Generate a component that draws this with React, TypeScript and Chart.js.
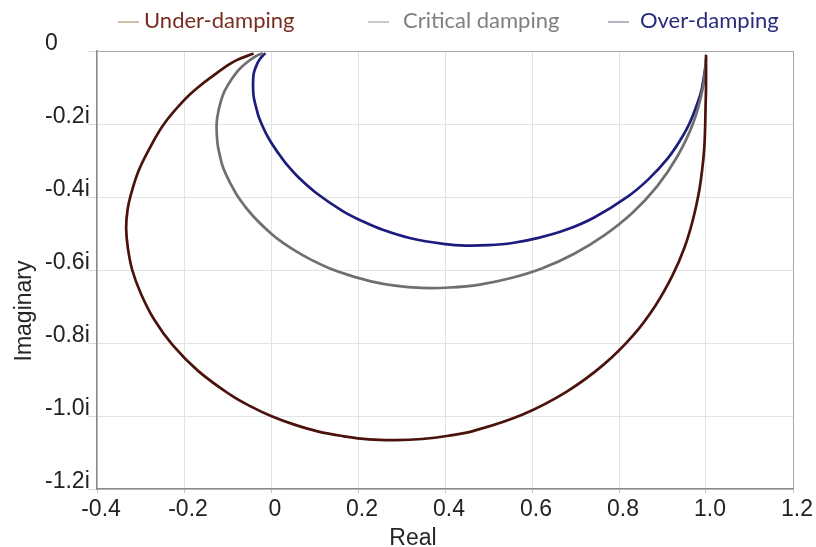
import React, { useEffect, useRef } from 'react';
import { Chart, registerables } from 'chart.js';

Chart.register(...registerables);

// ---------- data ----------
const seriesNames = ['Under-damping', 'Critical damping', 'Over-damping'];

const underReal = [1.0, 1.0, 0.999, 0.998, 0.996, 0.991, 0.983, 0.970, 0.951, 0.923, 0.884, 0.832, 0.764, 0.680, 0.580, 0.468, 0.408, 0.347, 0.286, 0.225, 0.165, 0.107, 0.052, 0.0, -0.048, -0.092, -0.167, -0.226, -0.269, -0.299, -0.319, -0.329, -0.333, -0.330, -0.322, -0.305, -0.281, -0.246, -0.199, -0.166, -0.131, -0.104, -0.079, -0.040];
const underImag = [-0.010, -0.101, -0.153, -0.208, -0.266, -0.327, -0.392, -0.462, -0.537, -0.615, -0.697, -0.780, -0.860, -0.933, -0.995, -1.040, -1.054, -1.063, -1.066, -1.064, -1.055, -1.042, -1.023, -1.0, -0.973, -0.943, -0.877, -0.806, -0.735, -0.665, -0.600, -0.540, -0.486, -0.437, -0.393, -0.330, -0.271, -0.200, -0.134, -0.098, -0.066, -0.043, -0.025, -0.007];

const criticalReal = [1.0, 0.993, 0.971, 0.935, 0.888, 0.831, 0.766, 0.696, 0.624, 0.552, 0.480, 0.411, 0.346, 0.285, 0.230, 0.179, 0.134, 0.094, 0.058, 0.027, 0.0, -0.043, -0.074, -0.095, -0.110, -0.118, -0.123, -0.125, -0.120, -0.111, -0.100, -0.080, -0.064, -0.052, -0.036, -0.019];
const criticalImag = [-0.020, -0.100, -0.196, -0.287, -0.370, -0.443, -0.505, -0.556, -0.595, -0.622, -0.640, -0.648, -0.649, -0.643, -0.631, -0.614, -0.595, -0.573, -0.549, -0.525, -0.500, -0.450, -0.403, -0.359, -0.320, -0.284, -0.253, -0.200, -0.160, -0.122, -0.095, -0.060, -0.040, -0.028, -0.015, -0.006];

const overReal = [0.999, 0.994, 0.987, 0.964, 0.940, 0.912, 0.868, 0.820, 0.743, 0.678, 0.615, 0.555, 0.499, 0.448, 0.401, 0.321, 0.257, 0.206, 0.164, 0.104, 0.063, 0.035, 0.015, 0.0, -0.011, -0.019, -0.028, -0.033, -0.039, -0.041, -0.041, -0.039, -0.031, -0.025, -0.019, -0.013];
const overImag = [-0.040, -0.080, -0.119, -0.193, -0.246, -0.294, -0.351, -0.399, -0.456, -0.490, -0.512, -0.526, -0.532, -0.533, -0.529, -0.513, -0.490, -0.464, -0.438, -0.389, -0.346, -0.309, -0.277, -0.250, -0.227, -0.207, -0.181, -0.160, -0.131, -0.110, -0.078, -0.058, -0.033, -0.021, -0.013, -0.006];

const xTickLabels = ['-0.4', '-0.2', '0', '0.2', '0.4', '0.6', '0.8', '1.0', '1.2'];
const yTickLabels = ['0', '-0.2i', '-0.4i', '-0.6i', '-0.8i', '-1.0i', '-1.2i'];

const xAxisTitle = 'Real';
const yAxisTitle = 'Imaginary';

// ---------- styles / layout ----------
const X_MIN = -0.4, X_MAX = 1.2, STEP = 0.2;
const Y_MIN = -1.2, Y_MAX = 0;

const lineColors = ['#4a120a', '#6f6f6f', '#1c1c7c'];
const legendTextColors = ['#7b2c20', '#7f7f7f', '#2c2c7e'];
const legendDashColors = ['#bcac90', '#b8b8b8', '#9c9cac'];
const legendDashX = [118, 368, 608];
const legendTextX = [144, 403, 640];

const TICK_FONT = { family: '"Liberation Sans", Arial, sans-serif', size: 23 };

function toPoints(xs: number[], ys: number[]) {
  return xs.map((x, i) => ({ x, y: ys[i] }));
}

const textPlugin = {
  id: 'customTexts',
  afterDraw(chart: any) {
    const ctx = chart.ctx as CanvasRenderingContext2D;
    ctx.save();
    // legend
    seriesNames.forEach((name, i) => {
      ctx.strokeStyle = legendDashColors[i];
      ctx.lineWidth = 1.5;
      ctx.beginPath();
      ctx.moveTo(legendDashX[i], 22);
      ctx.lineTo(legendDashX[i] + 21, 22);
      ctx.stroke();
      ctx.fillStyle = legendTextColors[i];
      ctx.font = '22px Lato, "Open Sans", sans-serif';
      ctx.textAlign = 'left';
      ctx.textBaseline = 'alphabetic';
      ctx.fillText(name, legendTextX[i], 28);
    });
    // axis titles
    ctx.fillStyle = '#262626';
    ctx.font = '23px "Liberation Sans", Arial, sans-serif';
    ctx.textAlign = 'center';
    ctx.textBaseline = 'alphabetic';
    ctx.fillText(xAxisTitle, 413, 545);
    ctx.translate(31, 311);
    ctx.rotate(-Math.PI / 2);
    ctx.fillText(yAxisTitle, 0, 0);
    ctx.restore();
  },
};

export default function App() {
  const canvasRef = useRef<HTMLCanvasElement | null>(null);

  useEffect(() => {
    if (!canvasRef.current) return;
    const chart = new Chart(canvasRef.current, {
      type: 'scatter',
      data: {
        datasets: [
          { label: seriesNames[0], data: toPoints(underReal, underImag) },
          { label: seriesNames[1], data: toPoints(criticalReal, criticalImag) },
          { label: seriesNames[2], data: toPoints(overReal, overImag) },
        ].map((d, i) => ({
          ...d,
          showLine: true,
          pointRadius: 0,
          pointHoverRadius: 0,
          borderColor: lineColors[i],
          backgroundColor: lineColors[i],
          borderWidth: 2.7,
          tension: 0.4,
          fill: false,
        })),
      },
      options: {
        animation: false,
        responsive: true,
        maintainAspectRatio: false,
        layout: { padding: { top: 51, right: 23, bottom: 0, left: 45 } },
        plugins: {
          legend: { display: false },
          tooltip: { enabled: false },
        },
        scales: {
          x: {
            type: 'linear',
            min: X_MIN,
            max: X_MAX,
            afterFit: (s: any) => { s.height = 58; },
            ticks: {
              stepSize: STEP,
              font: TICK_FONT,
              color: '#222222',
              padding: 3,
              labelOffset: 4,
              maxRotation: 0,
              autoSkip: false,
              callback: (v: any) => xTickLabels[Math.round((Number(v) - X_MIN) / STEP)] ?? '',
            },
            grid: {
              color: (c: any) => (c.tick && Math.abs(c.tick.value - X_MAX) < 1e-6 ? '#a8a8a8' : '#e2e2e2'),
              tickLength: 4,
              tickColor: '#c8c8c8',
            },
            border: { color: '#8a8a8a', width: 1.5 },
          },
          y: {
            type: 'linear',
            min: Y_MIN,
            max: Y_MAX,
            afterFit: (s: any) => { s.width = 52; },
            ticks: {
              stepSize: STEP,
              font: TICK_FONT,
              color: '#222222',
              padding: 0,
              crossAlign: 'far',
              labelOffset: -7,
              autoSkip: false,
              callback: (v: any) => yTickLabels[Math.round((Y_MAX - Number(v)) / STEP)] ?? '',
            },
            grid: {
              color: (c: any) => (c.tick && Math.abs(c.tick.value - Y_MAX) < 1e-6 ? '#a8a8a8' : '#e2e2e2'),
              tickLength: 9,
              tickColor: '#dadada',
            },
            border: { color: '#8a8a8a', width: 1.5 },
          },
        },
      },
      plugins: [textPlugin],
    } as any);
    return () => chart.destroy();
  }, []);

  return (
    <div style={{ position: 'absolute', left: 0, top: 0, width: 816, height: 547, background: '#fff' }}>
      <canvas ref={canvasRef} />
    </div>
  );
}
